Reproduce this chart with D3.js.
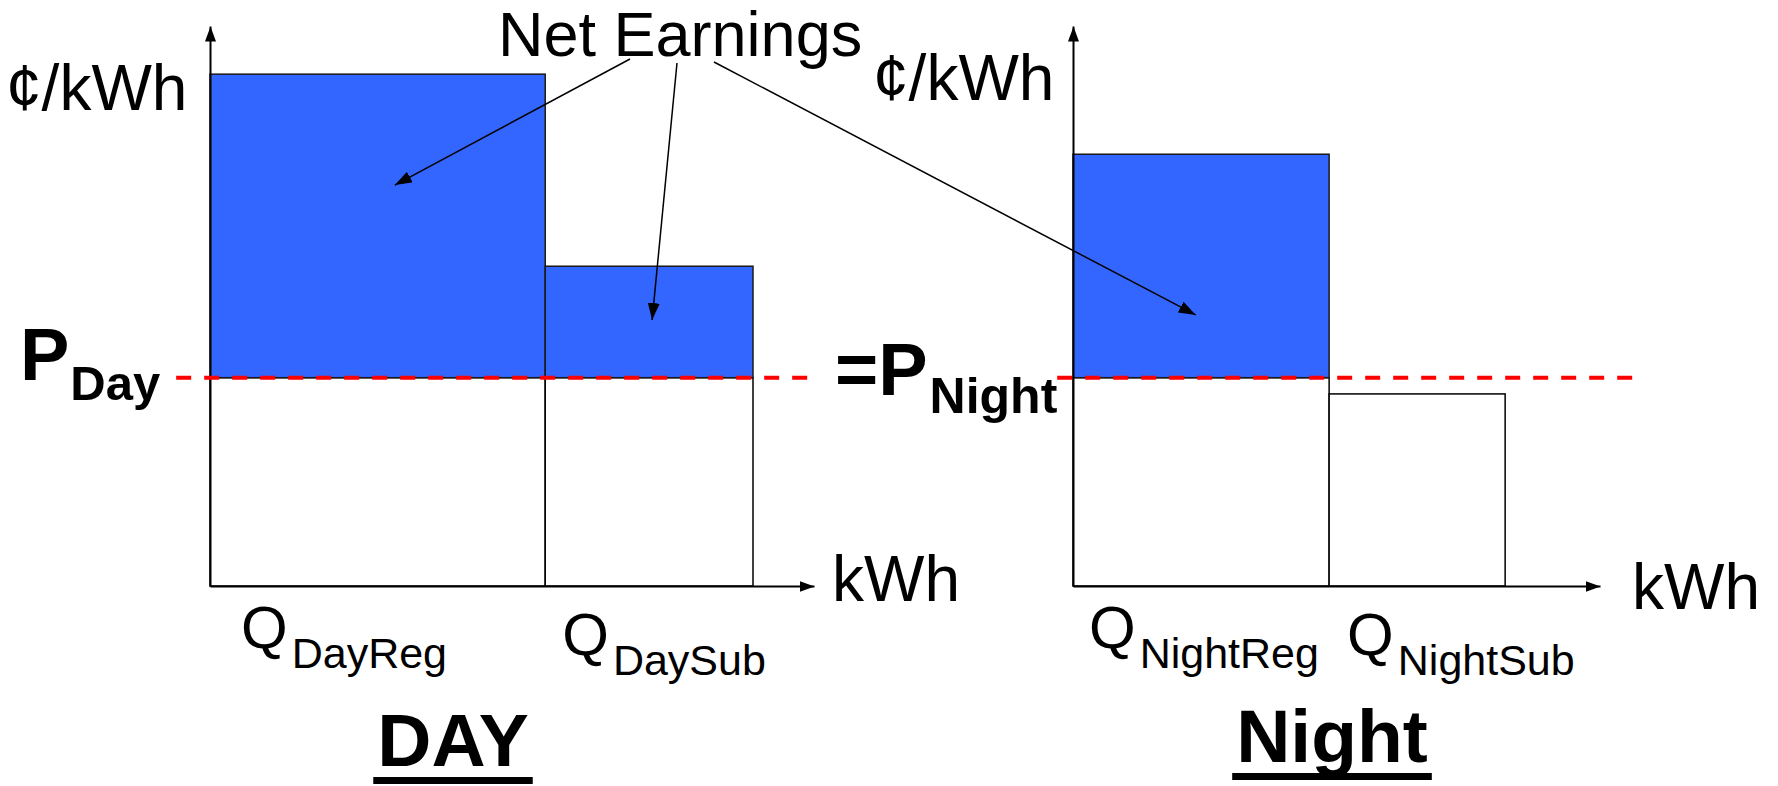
<!DOCTYPE html>
<html>
<head>
<meta charset="UTF-8" />
<title>Net Earnings</title>
<script src="https://cdn.jsdelivr.net/npm/d3@7"></script>
<style>
    body { margin: 0; background: #fff; }
    svg { display: block; font-family: "Liberation Sans", Arial, sans-serif; }
</style>
</head>
<body>
<div id="chart"></div>
<script>
// values: price in ¢/kWh (0-100), quantity in kWh (0-100 per panel)
const panelNames = ["DAY", "Night"];
const subNames = ["Day", "Night"];
const blockNames = ["Reg", "Sub"];
const dayPrice = [91.4, 57.1];
const nightPrice = [77.1, 34.3];
const dayQty = [55.5, 34.4];
const nightQty = [48.6, 33.4];
const marketPrice = 37.2; // P_Day = P_Night
// extent of the dashed price line in kWh units
const dashExtent = [[-5.6, 99.2], [-3.0, 106.3]];
// "Net Earnings" arrows: [panel, kWh, ¢/kWh]
const arrowTargets = [[0, 30.6, 71.6], [0, 73.2, 47.5], [1, 23.3, 48.4]];

const prices = [dayPrice, nightPrice];
const qtys = [dayQty, nightQty];

const width = 1778, height = 786;
const blue = "#3366ff", red = "#ff0000";

const svg = d3.select("#chart").append("svg")
    .attr("width", width)
    .attr("height", height);

let defs = svg.append("defs");
function marker(id, len, wid) {
    defs.append("marker")
        .attr("id", id)
        .attr("viewBox", "0 0 10 10")
        .attr("refX", 10).attr("refY", 5)
        .attr("markerWidth", len).attr("markerHeight", wid)
        .attr("markerUnits", "userSpaceOnUse")
        .attr("preserveAspectRatio", "none")
        .attr("orient", "auto")
        .append("path")
        .attr("d", "M0,0L10,5L0,10z")
        .attr("fill", "#000");
}
marker("axisTip", 15, 11);
marker("noteTip", 17, 12);

let y = d3.scaleLinear().domain([0, 100]).range([586, 26]);
let xs = [
    d3.scaleLinear().domain([0, 100]).range([210, 814]),
    d3.scaleLinear().domain([0, 100]).range([1073, 1600])
];

// label placement per panel/block: Q left offset from block start, Q baseline
const qLayout = [[[31, 648], [17, 655]], [[16, 648], [18, 655]]];

panelNames.forEach((name, p) => {
    let x = xs[p];
    let starts = [0, qtys[p][0]];
    let blocks = qtys[p].map((q, i) => ({
        x0: starts[i], x1: starts[i] + q, price: prices[p][i], name: blockNames[i]
    }));

    let g = svg.append("g").attr("class", "panel");

    // white part (below market price or whole block)
    g.selectAll(".low")
        .data(blocks)
        .enter()
        .append("rect")
        .attr("x", d => x(d.x0))
        .attr("width", d => x(d.x1) - x(d.x0))
        .attr("y", d => y(Math.min(d.price, marketPrice)))
        .attr("height", d => y(0) - y(Math.min(d.price, marketPrice)))
        .attr("fill", "#fff")
        .attr("stroke", "#000")
        .attr("stroke-width", 1.5);

    // net earnings part (above market price)
    g.selectAll(".high")
        .data(blocks.filter(d => d.price > marketPrice))
        .enter()
        .append("rect")
        .attr("x", d => x(d.x0))
        .attr("width", d => x(d.x1) - x(d.x0))
        .attr("y", d => y(d.price))
        .attr("height", d => y(marketPrice) - y(d.price))
        .attr("fill", blue)
        .attr("stroke", "#1a1a1a")
        .attr("stroke-width", 1.5);

    // axes, no ticks, arrow at the end
    g.append("g")
        .attr("transform", "translate(0," + y(0) + ")")
        .call(d3.axisBottom(x).ticks(0).tickSizeOuter(0))
        .select(".domain")
        .attr("stroke-width", 2)
        .attr("marker-end", "url(#axisTip)");
    g.append("g")
        .attr("transform", "translate(" + x(0) + ",0)")
        .call(d3.axisLeft(y).ticks(0).tickSizeOuter(0))
        .select(".domain")
        .attr("stroke-width", 2)
        .attr("marker-end", "url(#axisTip)");

    // market price line
    g.append("line")
        .attr("x1", x(dashExtent[p][0]))
        .attr("x2", x(dashExtent[p][1]))
        .attr("y1", y(marketPrice))
        .attr("y2", y(marketPrice))
        .attr("stroke", red)
        .attr("stroke-width", 4)
        .attr("stroke-dasharray", "15,13");

    // Q labels
    blocks.forEach((d, i) => {
        let t = g.append("text")
            .attr("x", x(d.x0) + qLayout[p][i][0])
            .attr("y", qLayout[p][i][1])
            .attr("font-size", 60);
        t.append("tspan").text("Q");
        t.append("tspan")
            .attr("dx", 4).attr("dy", 20)
            .attr("font-size", 43)
            .text(subNames[p] + d.name);
    });

    // panel title with underline
    let title = g.append("text")
        .attr("x", p == 0 ? 453 : 1332)
        .attr("y", p == 0 ? 766 : 762)
        .attr("text-anchor", "middle")
        .attr("font-size", 75)
        .attr("font-weight", "bold")
        .text(name);
    let bb = title.node().getBBox();
    g.append("rect")
        .attr("x", bb.x - 4)
        .attr("width", bb.width + 8)
        .attr("y", +title.attr("y") + 11)
        .attr("height", 7)
        .attr("fill", "#000");
});

// axis captions
const unitLabels = [
    ["¢/kWh", 6, 110], ["¢/kWh", 873, 100],
    ["kWh", 832, 601], ["kWh", 1632, 609]
];
svg.selectAll(".unit")
    .data(unitLabels)
    .enter()
    .append("text")
    .attr("class", "unit")
    .attr("x", d => d[1])
    .attr("y", d => d[2])
    .attr("font-size", 64)
    .text(d => d[0]);

// price labels
let pDay = svg.append("text")
    .attr("x", 20).attr("y", 380)
    .attr("font-weight", "bold")
    .attr("font-size", 74);
pDay.append("tspan").text("P");
pDay.append("tspan").attr("dx", 1).attr("dy", 20).attr("font-size", 49).text(subNames[0]);

let pNight = svg.append("text")
    .attr("x", 835).attr("y", 395)
    .attr("font-weight", "bold")
    .attr("font-size", 74);
pNight.append("tspan").text("=P");
pNight.append("tspan").attr("dx", 2).attr("dy", 18).attr("font-size", 50).text(subNames[1]);

// Net Earnings note
svg.append("text")
    .attr("x", 498).attr("y", 56)
    .attr("font-size", 63)
    .text("Net Earnings");

const arrowStarts = [[630, 59], [677, 63], [714, 62]];
svg.selectAll(".note")
    .data(arrowTargets)
    .enter()
    .append("line")
    .attr("class", "note")
    .attr("x1", (d, i) => arrowStarts[i][0])
    .attr("y1", (d, i) => arrowStarts[i][1])
    .attr("x2", d => xs[d[0]](d[1]))
    .attr("y2", d => y(d[2]))
    .attr("stroke", "#000")
    .attr("stroke-width", 1.5)
    .attr("marker-end", "url(#noteTip)");
</script>
</body>
</html>
